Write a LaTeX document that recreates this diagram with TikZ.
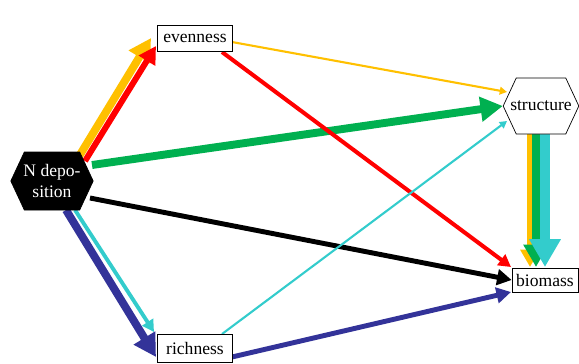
\documentclass[tikz,border=0pt]{standalone}
\usepackage{fontspec}
\setmainfont{Liberation Serif}
\usetikzlibrary{arrows.meta,
                backgrounds,
                positioning,
                shapes.symbols}

\definecolor{gold}{HTML}{FFC000}
\definecolor{leaf}{HTML}{00B050}
\definecolor{ink}{HTML}{333399}
\definecolor{teal}{HTML}{33CCCC}
\definecolor{scarlet}{HTML}{FF0000}

\begin{document}
\begin{tikzpicture}[
        x=0.02cm, y=-0.02cm,
        font=\fontsize{10}{11.5}\selectfont,
        hexnode/.style={signal, signal to=west and east, signal pointer angle=130, inner ysep=1pt, inner xsep=-3.4pt, minimum height=1.12cm, draw=black, align=center},
        boxnode/.style={rectangle, minimum width=1.5cm, minimum height=0.52cm, inner sep=1pt, text centered, draw=black, fill=white},
        link/.style={draw=#1, arrows={-Triangle[length=1pt 2.6, width=1pt 2.8]}}
        ]

        \useasboundingbox (0,0) rectangle (579,363);

        \node (nd)     [hexnode, fill=black, text=white, inner xsep=-0.5pt, minimum height=1.16cm] at (52,181)  {N depo-\\sition};
        \node (even)   [boxnode]                                                                     at (195,38)  {evenness};
        \node (struct) [hexnode, fill=white]                                                         at (541,106) {structure};
        \node (bio)    [boxnode, minimum width=1.32cm, minimum height=0.48cm]                        at (545,280) {biomass};
        \node (rich)   [boxnode, minimum height=0.56cm]                                              at (195,348) {richness};

        \begin{pgfonlayer}{background}
        \draw [link=leaf, line width=4.5pt]  ([shift={(40,-16)}]nd.center)  -- (struct.west);
        \draw [link=black, line width=2.8pt] ([shift={(38,17)}]nd.center)   -- (bio.west);
        \draw [link=gold, line width=4.5pt]  ([shift={(26,-23)}]nd.center)  -- ([shift={(-44,0)}]even.center);
        \draw [link=scarlet, line width=3.4pt] ([shift={(33,-20)}]nd.center) -- ([shift={(-39,8)}]even.center);
        \draw [link=ink, line width=4.5pt]   ([shift={(14,29)}]nd.center)   -- ([shift={(-39,9)}]rich.center);
        \draw [link=teal, line width=2.2pt]  ([shift={(23,29)}]nd.center)   -- ([shift={(-41,-16)}]rich.center);

        \draw [link=gold, line width=1.2pt]  ([shift={(37,4)}]even.center)  -- ([shift={(-34,-14)}]struct.center);
        \draw [link=scarlet, line width=2.3pt] ([shift={(27,14)}]even.center) -- ([shift={(-34,-13)}]bio.center);
        \draw [link=teal, line width=1.2pt]  ([shift={(27,-14)}]rich.center) -- ([shift={(-34,15)}]struct.center);
        \draw [link=ink, line width=2.8pt]   ([shift={(37,9)}]rich.center)  -- ([shift={(-34,12)}]bio.center);

        \draw [link=gold, line width=3.4pt]  ([shift={(-11,28)}]struct.center) -- ([shift={(-15,-13)}]bio.center);
        \draw [link=leaf, line width=4.5pt]  ([shift={(-5,28)}]struct.center)  -- ([shift={(-9,-13)}]bio.center);
        \draw [link=teal, line width=5.7pt]  ([shift={(4,28)}]struct.center)   -- ([shift={(0,-13)}]bio.center);
        \end{pgfonlayer}

    \end{tikzpicture}
\end{document}
